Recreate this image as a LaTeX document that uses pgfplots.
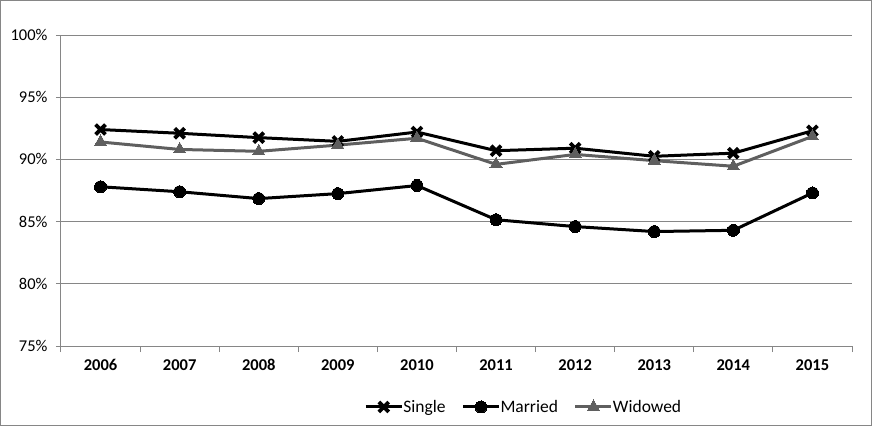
\documentclass[border=0pt]{standalone}
\usepackage{fontspec}
\setmainfont{Carlito}
\usepackage{pgfplots}
\pgfplotsset{compat=1.18}
\definecolor{gridgray}{RGB}{134,134,134}
\definecolor{widgray}{RGB}{95,95,95}
\begin{document}
\begin{tikzpicture}[x=1pt,y=1pt]
\begin{axis}[
  at={(0,0)}, anchor=south west,
  scale only axis, width=791pt, height=311pt,
  xmin=0.5, xmax=10.5, ymin=75, ymax=100,
  axis x line*=bottom, axis y line*=left,
  axis line style={gridgray, line width=1pt},
  xtick={1,...,10},
  xticklabels={2006,2007,2008,2009,2010,2011,2012,2013,2014,2015},
  x tick label style={font=\fontsize{16.5}{18}\selectfont\bfseries, yshift=-5pt},
  major x tick style={draw=none},
  minor xtick={0.5,1.5,...,10.5},
  minor tick length=6pt,
  minor x tick style={gridgray, line width=1pt},
  ytick={75,80,...,100},
  yticklabel={\pgfmathprintnumber{\tick}\%},
  y tick label style={font=\fontsize{16.5}{18}\selectfont, xshift=-5pt},
  major tick length=5pt,
  tick align=outside,
  ytick style={gridgray, line width=1pt},
  ymajorgrids, grid style={gridgray, line width=1pt},
  /pgf/number format/assume math mode=true,
  clip=false,
  legend columns=-1,
  legend style={at={(0.585,-0.196)}, anchor=center, draw=none,
    font=\fontsize{17.5}{19}\selectfont, /tikz/every even column/.append style={column sep=14pt},
    /tikz/every odd column/.append style={column sep=-2pt}},
  legend image code/.code={\draw[#1] (0pt,0pt) -- (36pt,0pt); \draw[#1, mark repeat=2, mark phase=2] plot coordinates {(0pt,0pt) (18pt,0pt) (36pt,0pt)};},
]
\addplot[black, line width=3pt, mark=x, mark size=7pt, every mark/.append style={line width=3.8pt}]
 coordinates {(1,92.4) (2,92.1) (3,91.75) (4,91.45) (5,92.2) (6,90.7) (7,90.9) (8,90.25) (9,90.5) (10,92.3)};
\addlegendentry{Single}
\addplot[black, line width=3pt, mark=*, mark size=6pt, every mark/.append style={line width=0pt}]
 coordinates {(1,87.8) (2,87.4) (3,86.85) (4,87.25) (5,87.9) (6,85.15) (7,84.6) (8,84.2) (9,84.3) (10,87.3)};
\addlegendentry{Married}
\addplot[widgray, line width=3pt, mark=triangle*, mark size=7pt, every mark/.append style={line width=0pt}]
 coordinates {(1,91.4) (2,90.8) (3,90.65) (4,91.15) (5,91.7) (6,89.6) (7,90.4) (8,89.9) (9,89.45) (10,91.85)};
\addlegendentry{Widowed}
\end{axis}
\draw[gridgray, line width=1pt] (-60.5,-79.5) rectangle (810.5,345.5);
\useasboundingbox (-61,-80) rectangle (811,346);
\end{tikzpicture}
\end{document}
